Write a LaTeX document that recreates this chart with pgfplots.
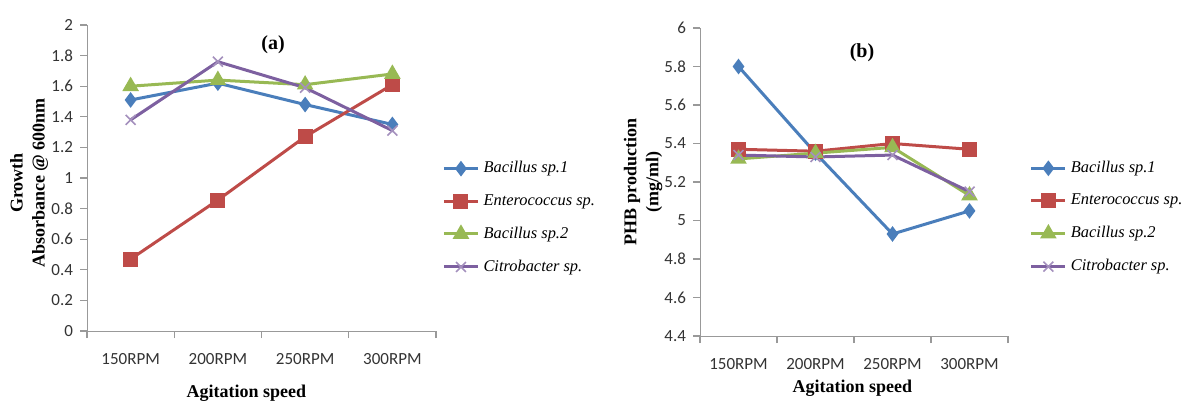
\documentclass[border=0pt]{standalone}
\usepackage{fontspec}
\setmainfont{Liberation Serif}
\newfontfamily\carlito{Carlito}
\usepackage{pgfplots}
\pgfplotsset{compat=1.18}
\definecolor{cB}{HTML}{4A7EBB}
\definecolor{cR}{HTML}{BE4B48}
\definecolor{cG}{HTML}{98B954}
\definecolor{cP}{HTML}{7D60A0}
\pgfplotsset{myax/.style={
  scale only axis, xmin=-0.5, xmax=3.5,
  xtick={-0.5,0.5,1.5,2.5,3.5}, x tick label as interval,
  xticklabels={150RPM,200RPM,250RPM,300RPM},
  axis x line=bottom, axis y line=left,
  axis line style={-,draw=gray!80},
  tick align=outside, major tick length=3.5pt,
  tick style={draw=gray!80, line width=0.6pt},
  ticklabel style={font=\carlito\fontsize{8.5}{10}\selectfont, text=black!80},
  /pgf/number format/assume math mode=true,
  x tick label style={yshift=-4pt},
  label style={font=\bfseries\fontsize{9}{11}\selectfont},
  legend style={draw=none, fill=none, font=\itshape\fontsize{8.2}{10}\selectfont, row sep=5.3pt},
  legend cell align=left,
  every axis plot/.append style={line width=1.5pt},
  clip=false,
}}
\begin{document}
\begin{tikzpicture}
\useasboundingbox (0,0) rectangle (590.5pt,-201.5pt);
% (a)
\begin{axis}[myax, at={(43.5pt,-165.5pt)}, anchor=south west,
  width=174.5pt, height=153pt,
  ymin=0, ymax=2, ytick={0,0.2,0.4,0.6,0.8,1,1.2,1.4,1.6,1.8,2},
  ylabel={Growth\\Absorbance @ 600nm},
  ylabel style={align=center, at={(axis description cs:-0.166,0.484)}, anchor=center, rotate=0},
  xlabel={Agitation speed},
  xlabel style={at={(axis description cs:0.457,-0.203)}, anchor=center},
  legend style={at={(axis description cs:1.0,0.37)}, anchor=west},
]
\addplot[cB, mark=diamond*, mark size=2.7pt, mark options={solid}] coordinates {(0,1.51) (1,1.62) (2,1.48) (3,1.35)};
\addlegendentry{Bacillus sp.1}
\addplot[cR, mark=square*, mark size=3pt, mark options={solid}] coordinates {(0,0.47) (1,0.856) (2,1.27) (3,1.61)};
\addlegendentry{Enterococcus sp.}
\addplot[cG, mark=triangle*, mark size=3.3pt, mark options={solid}] coordinates {(0,1.60) (1,1.64) (2,1.61) (3,1.68)};
\addlegendentry{Bacillus sp.2}
\addplot[cP, mark=x, mark size=3.5pt, mark options={solid, line width=0.8pt, draw=cP!70}] coordinates {(0,1.38) (1,1.76) (2,1.59) (3,1.31)};
\addlegendentry{Citrobacter sp.}
\node[font=\bfseries\fontsize{10}{12}\selectfont] at (axis description cs:0.533,0.935) {(a)};
\end{axis}
% (b)
\begin{axis}[myax, at={(350pt,-168pt)}, anchor=south west,
  width=154pt, height=154pt,
  ymin=4.4, ymax=6, ytick={4.4,4.6,4.8,5,5.2,5.4,5.6,5.8,6},
  ylabel={PHB production\\(mg/ml)},
  ylabel style={align=center, at={(axis description cs:-0.185,0.5)}, anchor=center, rotate=0},
  xlabel={Agitation speed},
  xlabel style={at={(axis description cs:0.495,-0.169)}, anchor=center},
  legend style={at={(axis description cs:1.05,0.385)}, anchor=west},
]
\addplot[cB, mark=diamond*, mark size=2.7pt, mark options={solid}] coordinates {(0,5.80) (1,5.35) (2,4.93) (3,5.05)};
\addlegendentry{Bacillus sp.1}
\addplot[cR, mark=square*, mark size=3pt, mark options={solid}] coordinates {(0,5.37) (1,5.36) (2,5.40) (3,5.37)};
\addlegendentry{Enterococcus sp.}
\addplot[cG, mark=triangle*, mark size=3.3pt, mark options={solid}] coordinates {(0,5.32) (1,5.35) (2,5.38) (3,5.13)};
\addlegendentry{Bacillus sp.2}
\addplot[cP, mark=x, mark size=3.5pt, mark options={solid, line width=0.8pt, draw=cP!70}] coordinates {(0,5.34) (1,5.33) (2,5.34) (3,5.15)};
\addlegendentry{Citrobacter sp.}
\node[font=\bfseries\fontsize{10}{12}\selectfont] at (axis description cs:0.526,0.919) {(b)};
\end{axis}
\end{tikzpicture}
\end{document}
